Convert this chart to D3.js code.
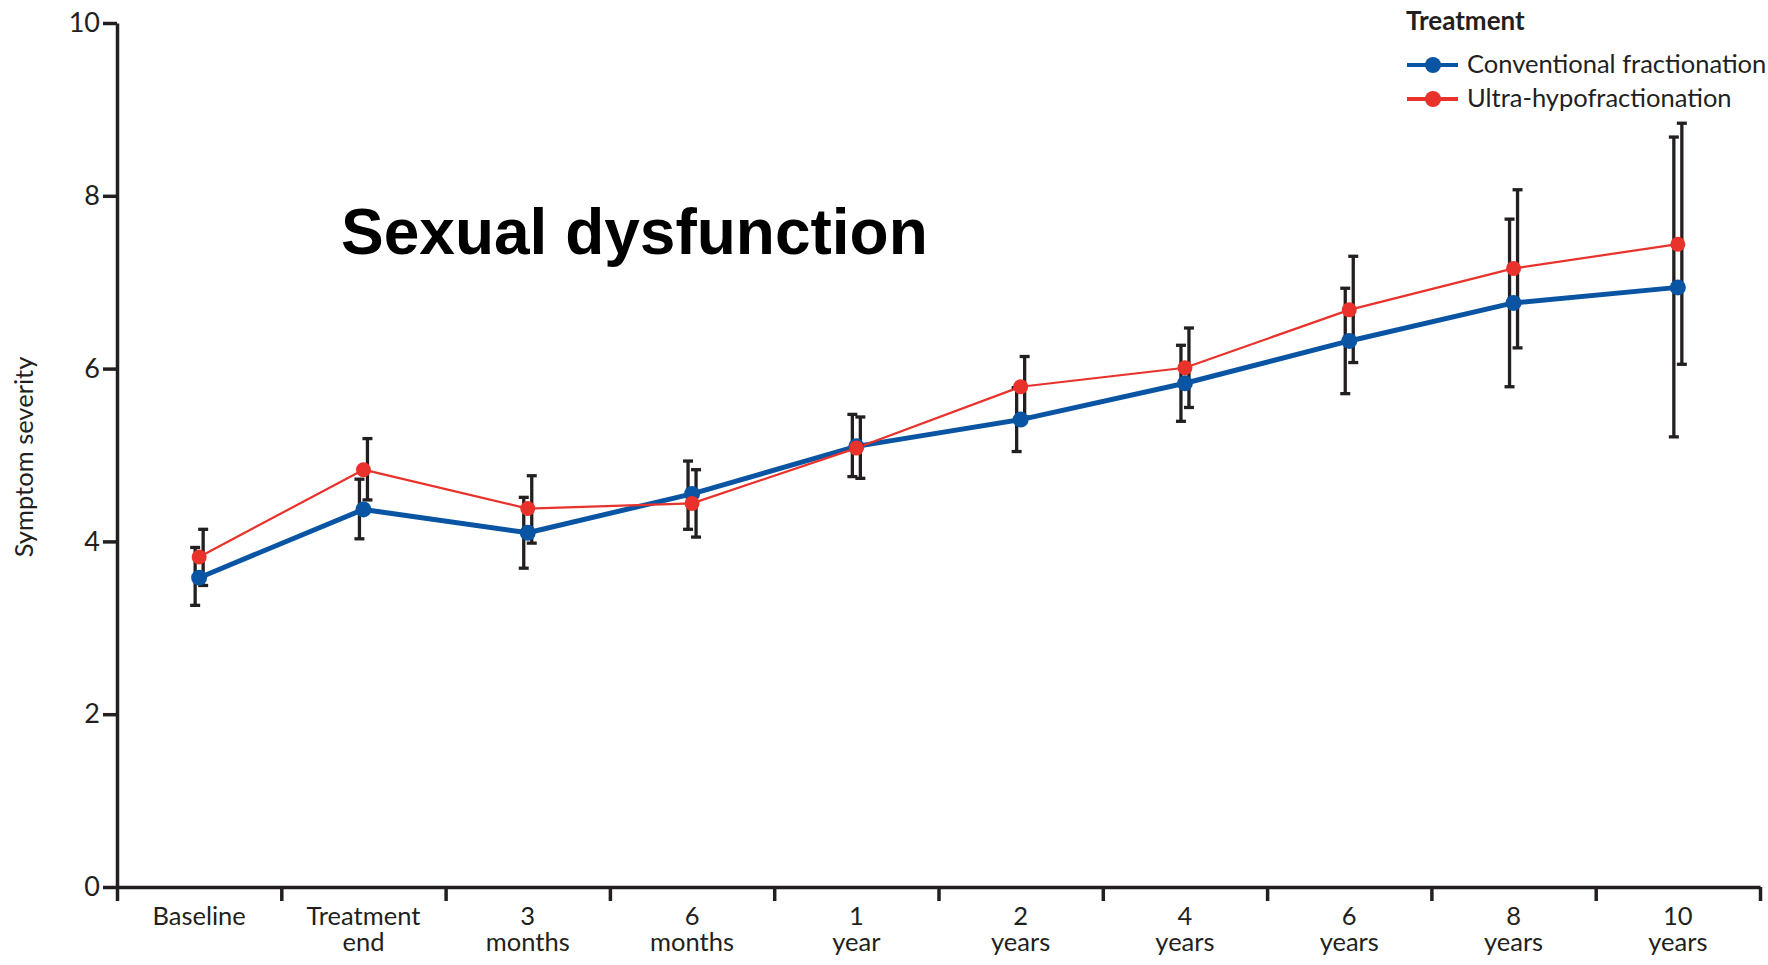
<!DOCTYPE html>
<html>
<head>
<meta charset="utf-8">
<script src="https://cdn.jsdelivr.net/npm/d3@7"></script>
<style>
  html, body { margin: 0; padding: 0; background: #fff; }
  svg { display: block; }
</style>
</head>
<body>
<svg id="chart" width="1768" height="965"></svg>
<script>
// ---- data ----
const categories = ["Baseline", "Treatment end", "3 months", "6 months", "1 year", "2 years", "4 years", "6 years", "8 years", "10 years"];
const tickLabels = [["Baseline"], ["Treatment", "end"], ["3", "months"], ["6", "months"], ["1", "year"], ["2", "years"], ["4", "years"], ["6", "years"], ["8", "years"], ["10", "years"]];
const yTicks = [0, 2, 4, 6, 8, 10];

const seriesNames = ["Conventional fractionation", "Ultra-hypofractionation"];
const conventionalMean  = [3.58, 4.37, 4.10, 4.55, 5.10, 5.41, 5.83, 6.32, 6.76, 6.94];
const conventionalLower = [3.26, 4.03, 3.69, 4.14, 4.75, 5.04, 5.39, 5.71, 5.79, 5.21];
const conventionalUpper = [3.93, 4.72, 4.51, 4.93, 5.47, 5.78, 6.27, 6.93, 7.73, 8.68];
const ultraMean  = [3.82, 4.83, 4.38, 4.44, 5.08, 5.79, 6.01, 6.68, 7.16, 7.44];
const ultraLower = [3.49, 4.48, 3.98, 4.05, 4.73, 5.44, 5.55, 6.07, 6.24, 6.05];
const ultraUpper = [4.14, 5.19, 4.76, 4.83, 5.44, 6.14, 6.47, 7.30, 8.07, 8.84];

const titleText = "Sexual dysfunction";
const yLabel = "Symptom severity";
const legendTitle = "Treatment";

// ---- setup ----
const svg = d3.select("#chart");
const textColor = "#231f20";
const blue = "#0a55a3";
const red = "#e8322b";

const x = d3.scaleBand().domain(categories).range([117, 1760]);
const xEdges = d3.scaleLinear().domain([0, categories.length]).range([117, 1760]);
const y = d3.scaleLinear().domain([0, 10]).range([887, 23]);

// y axis
const yAxis = svg.append("g").attr("transform", "translate(117,0)")
  .call(d3.axisLeft(y).tickValues(yTicks).tickSize(14).tickSizeOuter(0).tickPadding(3));
yAxis.select(".domain").attr("stroke", textColor).attr("stroke-width", 3.5);
yAxis.selectAll(".tick line").attr("stroke", textColor).attr("stroke-width", 3.5);
yAxis.selectAll(".tick text").attr("fill", textColor).style("font-family", "Lato").style("font-size", "27px");

// x axis (boundary ticks)
const xAxis = svg.append("g").attr("transform", "translate(0,887)")
  .call(d3.axisBottom(xEdges).ticks(categories.length).tickSize(14).tickSizeOuter(0).tickFormat(""));
xAxis.select(".domain").attr("stroke", textColor).attr("stroke-width", 3.5);
xAxis.selectAll(".tick line").attr("stroke", textColor).attr("stroke-width", 3.5);

// x labels
const xl = svg.append("g")
  .style("font-family", "Lato").style("font-size", "25.5px").attr("fill", textColor);
categories.forEach((c, i) => {
  const t = xl.append("text").attr("text-anchor", "middle")
    .attr("x", x(c) + x.bandwidth() / 2).attr("y", 925);
  tickLabels[i].forEach((line, j) => {
    t.append("tspan").attr("x", x(c) + x.bandwidth() / 2).attr("dy", j === 0 ? 0 : 26).text(line);
  });
});

// y label
svg.append("text").attr("transform", "translate(33,457) rotate(-90)")
  .attr("text-anchor", "middle").attr("fill", textColor)
  .style("font-family", "Lato").style("font-size", "25.5px").text(yLabel);

// title
svg.append("text").attr("x", 341).attr("y", 254).attr("fill", "#000")
  .style("font-family", "'Liberation Sans', Arial, sans-serif").style("font-weight", "bold")
  .style("font-size", "64px").text(titleText);

// series
const series = [
  { name: seriesNames[0], mean: conventionalMean, lo: conventionalLower, hi: conventionalUpper, color: blue, lw: 5, r: 8, dx: -4 },
  { name: seriesNames[1], mean: ultraMean, lo: ultraLower, hi: ultraUpper, color: red, lw: 2.2, r: 7.5, dx: 4 }
];
const cx = i => x(categories[i]) + x.bandwidth() / 2;

// error bars
series.forEach(s => {
  const g = svg.append("g").attr("stroke", textColor).attr("stroke-width", 3.3);
  categories.forEach((c, i) => {
    const bx = cx(i) + s.dx;
    g.append("line").attr("x1", bx).attr("x2", bx).attr("y1", y(s.lo[i])).attr("y2", y(s.hi[i]));
    g.append("line").attr("x1", bx - 5).attr("x2", bx + 5).attr("y1", y(s.lo[i])).attr("y2", y(s.lo[i]));
    g.append("line").attr("x1", bx - 5).attr("x2", bx + 5).attr("y1", y(s.hi[i])).attr("y2", y(s.hi[i]));
  });
});

// lines
series.forEach(s => {
  const line = d3.line().x((d, i) => cx(i)).y(d => y(d));
  svg.append("path").datum(s.mean).attr("d", line).attr("fill", "none")
    .attr("stroke", s.color).attr("stroke-width", s.lw).attr("stroke-linejoin", "round");
});
// points
series.forEach(s => {
  svg.append("g").selectAll("circle").data(s.mean).join("circle")
    .attr("cx", (d, i) => cx(i)).attr("cy", d => y(d)).attr("r", s.r).attr("fill", s.color);
});

// legend
const lg = svg.append("g");
lg.append("text").attr("x", 1406).attr("y", 30).attr("fill", textColor)
  .style("font-family", "Lato").style("font-weight", "bold").style("font-size", "26px").text(legendTitle);
series.forEach((s, k) => {
  const ly = 65 + k * 34;
  lg.append("line").attr("x1", 1407).attr("x2", 1458).attr("y1", ly).attr("y2", ly)
    .attr("stroke", s.color).attr("stroke-width", 4);
  lg.append("circle").attr("cx", 1433).attr("cy", ly).attr("r", 8).attr("fill", s.color);
  lg.append("text").attr("x", 1467).attr("y", ly + 8).attr("fill", textColor)
    .style("font-family", "Lato").style("font-size", "25.5px").text(s.name);
});
</script>
</body>
</html>
